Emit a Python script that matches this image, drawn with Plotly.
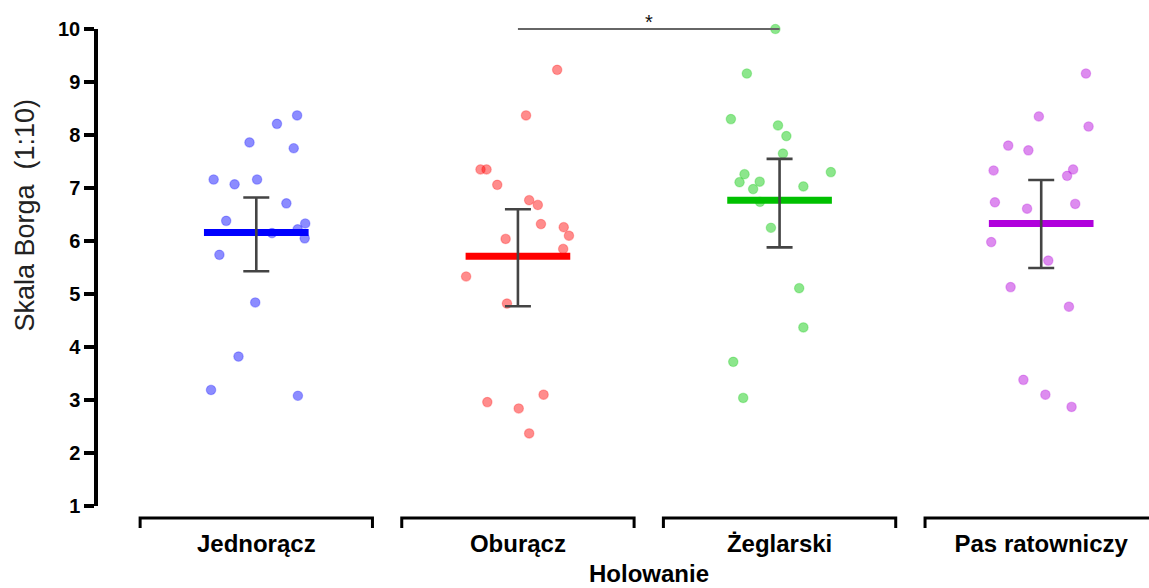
import plotly.graph_objects as go

categories = ["Jednorącz", "Oburącz", "Żeglarski", "Pas ratowniczy"]

vals_jednoracz = [8.37, 8.21, 7.86, 7.75, 7.16, 7.07, 7.16, 6.71, 6.38, 6.33, 6.22, 6.15, 6.05, 5.74, 4.84, 3.82, 3.19, 3.08]
vals_oburacz = [9.23, 8.37, 7.35, 7.35, 7.06, 6.77, 6.68, 6.32, 6.26, 6.10, 6.04, 5.85, 5.33, 4.82, 3.10, 2.96, 2.84, 2.37]
vals_zeglarski = [10.0, 9.16, 8.30, 8.18, 7.98, 7.65, 7.30, 7.26, 7.11, 7.12, 6.98, 7.03, 6.74, 6.25, 5.11, 4.37, 3.72, 3.04]
vals_pas = [9.16, 8.35, 8.16, 7.80, 7.71, 7.33, 7.35, 7.23, 6.73, 6.70, 6.61, 5.98, 5.63, 5.13, 4.76, 3.38, 3.10, 2.87]

jit_jednoracz = [0.156, 0.079, -0.026, 0.143, -0.163, -0.083, 0.003, 0.115, -0.115, 0.187, 0.158, 0.060, 0.185, -0.141, -0.004, -0.068, -0.173, 0.159]
jit_oburacz = [0.150, 0.031, -0.143, -0.120, -0.079, 0.043, 0.076, 0.088, 0.175, 0.195, -0.047, 0.173, -0.198, -0.042, 0.098, -0.117, 0.003, 0.043]
jit_zeglarski = [-0.016, -0.125, -0.186, -0.006, 0.026, 0.013, 0.196, -0.134, -0.153, -0.076, -0.101, 0.091, -0.075, -0.033, 0.075, 0.091, -0.177, -0.139]
jit_pas = [0.171, -0.009, 0.181, -0.126, -0.049, -0.182, 0.122, 0.099, -0.177, 0.130, -0.054, -0.191, 0.027, -0.117, 0.106, -0.068, 0.016, 0.116]

means = [6.16, 5.71, 6.77, 6.33]
err_upper = [6.82, 6.60, 7.55, 7.15]
err_lower = [5.43, 4.77, 5.88, 5.49]

y_ticks = [1, 2, 3, 4, 5, 6, 7, 8, 9, 10]
sig_pair = (1, 2)
sig_value = 10
sig_label = "*"
y_title = "Skala Borga\u00a0\u00a0(1:10)"
x_title = "Holowanie"

point_colors = ["rgba(0,0,255,0.45)", "rgba(255,0,0,0.45)", "rgba(0,200,0,0.45)", "rgba(180,0,220,0.45)"]
mean_colors = ["#0000ff", "#ff0000", "#00c000", "#b000dc"]

all_vals = [vals_jednoracz, vals_oburacz, vals_zeglarski, vals_pas]
all_jit = [jit_jednoracz, jit_oburacz, jit_zeglarski, jit_pas]

FONT = "Liberation Sans, Arial, sans-serif"

fig = go.Figure()
for i, (v, j) in enumerate(zip(all_vals, all_jit)):
    fig.add_trace(go.Scatter(
        x=[i + d for d in j], y=v, mode="markers",
        marker=dict(size=9.5, color=point_colors[i], line=dict(width=1.2, color=point_colors[i].replace("0.45", "0.25"))),
        cliponaxis=False, showlegend=False, hoverinfo="y"))

half = 0.2
for i, m in enumerate(means):
    fig.add_trace(go.Scatter(x=[i - half, i + half], y=[m, m], mode="lines",
                             line=dict(color=mean_colors[i], width=7), showlegend=False))

fig.add_trace(go.Scatter(
    x=list(range(len(means))), y=means, mode="markers", marker=dict(size=0.1, color="rgba(0,0,0,0)"),
    error_y=dict(type="data", symmetric=False,
                 array=[u - m for u, m in zip(err_upper, means)],
                 arrayminus=[m - l for l, m in zip(err_lower, means)],
                 color="#444444", thickness=2.6, width=13),
    showlegend=False, hoverinfo="skip"))

y_lo, y_hi = y_ticks[0], y_ticks[-1]
to_paper = lambda v: (v - y_lo) / (y_hi - y_lo)

# significance bar
fig.add_shape(type="line", xref="x", yref="paper", x0=sig_pair[0], x1=sig_pair[1],
              y0=to_paper(sig_value), y1=to_paper(sig_value), line=dict(color="#666666", width=2))
fig.add_annotation(x=(sig_pair[0] + sig_pair[1]) / 2, y=to_paper(sig_value), xref="x", yref="paper",
                   text=sig_label, showarrow=False, yanchor="bottom", yshift=-6,
                   font=dict(family=FONT, size=20, color="#111"))

# y-axis title (placed above axis centre, as in the original)
fig.add_annotation(x=-0.069, y=0.61, xref="paper", yref="paper", text=y_title, textangle=-90,
                   showarrow=False, xanchor="center", yanchor="middle",
                   font=dict(family=FONT, size=27, color="#222"))

# x-axis title centred under the groups
fig.add_annotation(x=(len(categories) - 1) / 2, y=-0.141, xref="x", yref="paper",
                   text=f"<b>{x_title}</b>", showarrow=False, xanchor="center", yanchor="middle",
                   borderpad=0, font=dict(family=FONT, size=24, color="black"))

# category brackets under the axis
for i in range(len(categories)):
    fig.add_shape(type="path", xref="x", yref="paper",
                  path=f"M {i-0.444},-0.046 L {i-0.444},-0.025 L {i+0.444},-0.025 L {i+0.444},-0.046",
                  line=dict(color="black", width=3))

fig.update_layout(
    width=1149, height=588,
    margin=dict(l=98, r=0, t=29, b=82),
    plot_bgcolor="white", paper_bgcolor="white",
    font=dict(family=FONT, color="black"),
    xaxis=dict(range=[-0.605, 3.412], tickvals=list(range(len(categories))), ticktext=categories,
               showgrid=False, zeroline=False, showline=False,
               ticks="outside", ticklen=16, tickcolor="rgba(0,0,0,0)",
               tickfont=dict(size=24, family=FONT, color="black", weight="bold")),
    yaxis=dict(range=[y_lo, y_hi], tickvals=y_ticks, showgrid=False, zeroline=False,
               showline=True, linewidth=3.5, linecolor="black",
               ticks="outside", ticklen=10, tickwidth=3.5, tickcolor="black",
               tickfont=dict(size=20, color="black", weight="bold")),
)

fig.write_html("out.html", config={"displayModeBar": False},
               post_script="document.body.style.margin='0';document.body.style.overflow='hidden';")
